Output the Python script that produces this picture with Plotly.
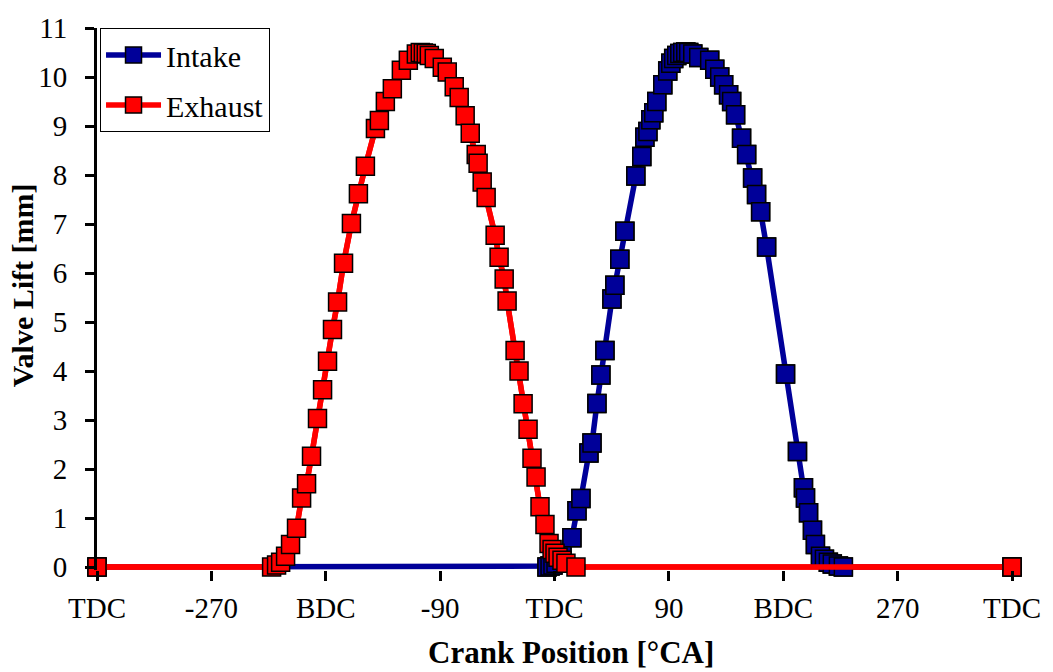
import plotly.graph_objects as go

# ---- data (crank angle in degCA, valve lift in mm) ----
intake_x = [-360, -5.9, -3.5, -1.2, 1.2, 5.9, 13.7, 17.7, 20.8, 27.1, 29.5, 33.4, 36.5, 39.7,
            45.2, 47.5, 51.4, 55.4, 64.0, 68.7, 71.1, 73.5, 75.8, 78.1, 80.5, 85.2, 89.1,
            91.5, 93.8, 96.2, 98.6, 100.9, 103.3, 105.6, 108.8, 113.5, 122.1, 126.1, 130.0,
            133.1, 137.0, 139.4, 142.5, 147.2, 151.2, 155.9, 159.0, 162.2, 166.9, 181.8,
            191.2, 195.9, 197.5, 199.9, 203.0, 205.3, 209.3, 212.4, 215.5, 218.6, 223.4,
            227.3, 360]
intake_y = [0, 0, 0.02, 0.04, 0.08, 0.25, 0.6, 1.15, 1.40, 2.33, 2.53, 3.34, 3.92, 4.42,
            5.47, 5.75, 6.28, 6.85, 7.98, 8.38, 8.77, 8.89, 9.13, 9.27, 9.50, 9.84, 10.12,
            10.28, 10.38, 10.44, 10.48, 10.50, 10.51, 10.50, 10.47, 10.40, 10.34, 10.16, 10.00,
            9.84, 9.64, 9.50, 9.23, 8.75, 8.42, 7.94, 7.60, 7.25, 6.53, 3.94,
            2.36, 1.62, 1.41, 1.11, 0.75, 0.46, 0.22, 0.16, 0.10, 0.06, 0.02,
            0, 0]

exhaust_x = [-360, -222.6, -218.7, -215.5, -211.6, -207.7, -203.0, -199.0, -195.1, -191.2,
             -186.5, -182.5, -178.6, -174.7, -170.7, -166.0, -159.8, -154.3, -148.8, -140.9,
             -137.8, -133.1, -127.6, -120.5, -115.0, -108.7, -105.6, -103.2, -100.9, -98.5,
             -94.6, -88.3, -84.4, -78.9, -75.0, -70.3, -66.3, -61.6, -60.1, -56.9, -53.8,
             -46.7, -43.6, -39.6, -37.3, -31.0, -27.9, -24.7, -20.8, -17.7, -14.5, -11.4,
             -7.5, -4.3, -1.9, 0.4, 2.8, 5.9, 9.0, 16.9, 360]
exhaust_y = [0, 0, 0.04, 0.10, 0.22, 0.46, 0.79, 1.41, 1.70, 2.26,
             3.03, 3.62, 4.20, 4.85, 5.41, 6.20, 7.01, 7.62, 8.18, 8.95,
             9.11, 9.50, 9.76, 10.14, 10.34, 10.47, 10.50, 10.49, 10.48, 10.44,
             10.38, 10.20, 10.10, 9.80, 9.58, 9.21, 8.85, 8.42, 8.24, 7.86, 7.54,
             6.77, 6.32, 5.88, 5.43, 4.42, 4.00, 3.33, 2.81, 2.22, 1.84, 1.23,
             0.87, 0.48, 0.36, 0.28, 0.20, 0.14, 0.08, 0, 0]

tick_vals = [-360, -270, -180, -90, 0, 90, 180, 270, 360]
tick_text = ["TDC", "-270", "BDC", "-90", "TDC", "90", "BDC", "270", "TDC"]
y_ticks = list(range(0, 12))

FONT = "Times New Roman, Liberation Serif, serif"
BLUE = "#000099"
RED = "#FF0000"
MSIZE = 18
LW = 5.5

fig = go.Figure()
fig.add_trace(go.Scatter(x=intake_x, y=intake_y, name="Intake", mode="lines+markers",
                         line=dict(color=BLUE, width=LW),
                         marker=dict(symbol="square", size=MSIZE, color=BLUE,
                                     line=dict(color="black", width=1.5)),
                         cliponaxis=False, legendgroup="a"))
fig.add_trace(go.Scatter(x=exhaust_x, y=exhaust_y, name="Exhaust", mode="lines",
                         line=dict(color=RED, width=LW),
                         cliponaxis=False, showlegend=False, legendgroup="b"))
fig.add_trace(go.Scatter(x=intake_x, y=intake_y, mode="markers", showlegend=False,
                         marker=dict(symbol="square", size=MSIZE, color=BLUE,
                                     line=dict(color="black", width=1.5)),
                         cliponaxis=False, hoverinfo="skip", legendgroup="a"))
fig.add_trace(go.Scatter(x=exhaust_x, y=exhaust_y, name="Exhaust", mode="lines+markers",
                         line=dict(color=RED, width=LW),
                         marker=dict(symbol="square", size=MSIZE, color=RED,
                                     line=dict(color="black", width=1.5)),
                         cliponaxis=False, legendgroup="b"))

fig.update_layout(
    width=1053, height=672,
    margin=dict(l=97, r=39, t=22, b=102),
    paper_bgcolor="white", plot_bgcolor="white",
    font=dict(family=FONT, size=29, color="black"),
    showlegend=True,
    legend=dict(x=0.0033, y=1, xanchor="left", yanchor="top",
                bgcolor="white", bordercolor="black", borderwidth=1,
                font=dict(family=FONT, size=30, color="black"),
                tracegroupgap=8, traceorder="grouped", itemwidth=55,
                valign="middle"),
    xaxis=dict(range=[-360, 360], tickvals=tick_vals, ticktext=tick_text,
               ticks="outside", ticklen=10, tickwidth=3, tickcolor="black",
               showgrid=False, zeroline=False, showline=False,
               tickfont=dict(family=FONT, size=29, color="black"),
               anchor="y", layer="above traces", ticklabelstandoff=2),
    xaxis2=dict(range=[-360, 360], tickvals=tick_vals, overlaying="x",
                ticks="inside", ticklen=10, tickwidth=3, tickcolor="black",
                showticklabels=False, showgrid=False, zeroline=False, showline=False,
                anchor="y", side="bottom", layer="above traces"),
    yaxis=dict(range=[-0.06, 11], tickvals=y_ticks,
               ticks="outside", ticklen=9, tickwidth=3, tickcolor="black",
               showgrid=False, zeroline=False, showline=True, linecolor="black",
               linewidth=3, tickfont=dict(family=FONT, size=29, color="black"),
               ticklabelstandoff=12),
    annotations=[
        dict(text="<b>Valve Lift [mm]</b>", textangle=-90, xref="paper", yref="paper",
             x=-0.0818, y=0.5255, xanchor="center", yanchor="middle", showarrow=False,
             font=dict(family=FONT, size=30, color="black")),
        dict(text="<b>Crank Position [°CA]</b>", xref="paper", yref="paper",
             x=0.518, y=-0.1515, xanchor="center", yanchor="middle", showarrow=False,
             font=dict(family=FONT, size=31, color="black")),
    ],
)

fig.write_html("out.html")
